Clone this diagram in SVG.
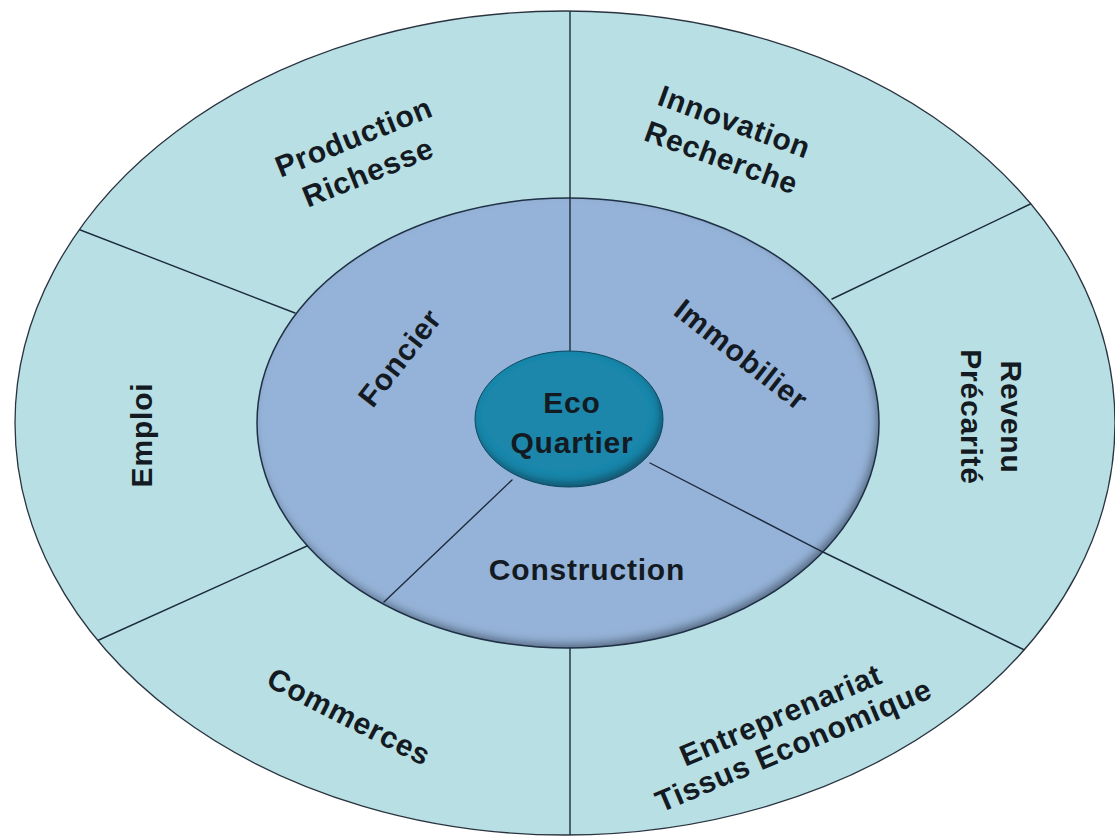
<svg xmlns="http://www.w3.org/2000/svg" width="1115" height="840" viewBox="0 0 1115 840">
  <defs>
    <style>
      .lbl { font-family: "Liberation Sans", Arial, sans-serif; font-weight: bold; font-size: 30px; letter-spacing: 0.8px; fill: #141a22; text-anchor: middle; }
      .rule { stroke: #1d2c3c; stroke-width: 1.4; fill: none; stroke-linecap: round; }
      .edge { stroke: #2a3440; stroke-width: 1.3; }
    </style>
    <!-- soft inner shade along the lower-right rim of a disc -->
    <filter id="bevel" x="-10%" y="-10%" width="120%" height="120%">
      <feGaussianBlur in="SourceAlpha" stdDeviation="4" result="blur"/>
      <feOffset in="blur" dx="-3" dy="-5" result="shift"/>
      <feComposite in="SourceAlpha" in2="shift" operator="out" result="rim"/>
      <feFlood flood-color="#0f2233" flood-opacity="0.7"/>
      <feComposite in2="rim" operator="in" result="shade"/>
      <feMerge>
        <feMergeNode in="SourceGraphic"/>
        <feMergeNode in="shade"/>
      </feMerge>
    </filter>
    <!-- keeps the dividers inside the outer ring -->
    <clipPath id="ring-clip">
      <ellipse cx="565" cy="423" rx="550" ry="412"/>
    </clipPath>
  </defs>

  <rect width="1115" height="840" fill="#ffffff"/>

  <!-- outer ring -->
  <g id="outer-ring">
    <ellipse class="edge" cx="565" cy="423" rx="550" ry="412" fill="#b8dfe4"/>
  </g>

  <!-- middle ring -->
  <g id="middle-ring">
    <ellipse cx="568" cy="423" rx="311" ry="225" fill="#95b3d8" filter="url(#bevel)"/>
    <ellipse cx="568" cy="423" rx="311" ry="225" fill="none" stroke="#1f3045" stroke-width="1.5"/>
  </g>

  <!-- sector dividers -->
  <g id="connectors" clip-path="url(#ring-clip)">
    <line class="rule" x1="570" y1="5" x2="570" y2="352"/>
    <line class="rule" x1="570" y1="648" x2="570" y2="840"/>
    <line class="rule" x1="70" y1="226" x2="295" y2="313"/>
    <line class="rule" x1="1045" y1="197" x2="832" y2="299"/>
    <line class="rule" x1="90" y1="644" x2="307" y2="546"/>
    <line class="rule" x1="512" y1="480" x2="384" y2="602"/>
    <polyline class="rule" points="650,463 823,552 1045,660"/>
  </g>

  <!-- centre -->
  <g id="eco-quartier">
    <ellipse cx="569" cy="419" rx="94" ry="68" fill="#1c87ab" filter="url(#bevel)"/>
    <ellipse cx="569" cy="419" rx="94" ry="68" fill="none" stroke="#0d4a63" stroke-width="1"/>
    <text class="lbl" x="572" y="413">Eco</text>
    <text class="lbl" x="572" y="453">Quartier</text>
  </g>

  <!-- middle ring labels -->
  <g id="foncier">
    <text class="lbl" transform="translate(400,358) rotate(-52)" y="10">Foncier</text>
  </g>
  <g id="immobilier">
    <text class="lbl" transform="translate(741,355) rotate(38)" y="10">Immobilier</text>
  </g>
  <g id="construction">
    <text class="lbl" x="587" y="580">Construction</text>
  </g>

  <!-- outer ring labels -->
  <g id="production-richesse">
    <g transform="translate(361,155) rotate(-22)">
      <text class="lbl" y="-9">Production</text>
      <text class="lbl" y="29">Richesse</text>
    </g>
  </g>
  <g id="innovation-recherche">
    <g transform="translate(728,140) rotate(20)">
      <text class="lbl" y="-9">Innovation</text>
      <text class="lbl" y="29">Recherche</text>
    </g>
  </g>
  <g id="revenu-precarite">
    <g transform="translate(991,417) rotate(90)">
      <text class="lbl" y="-10">Revenu</text>
      <text class="lbl" y="30">Précarité</text>
    </g>
  </g>
  <g id="entreprenariat">
    <g transform="translate(787,730) rotate(-23)">
      <text class="lbl" y="-6">Entreprenariat</text>
      <text class="lbl" y="27">Tissus Economique</text>
    </g>
  </g>
  <g id="commerces">
    <text class="lbl" transform="translate(349,717) rotate(27)" y="10">Commerces</text>
  </g>
  <g id="emploi">
    <text class="lbl" transform="translate(142,435) rotate(-90)" y="10">Emploi</text>
  </g>
</svg>
